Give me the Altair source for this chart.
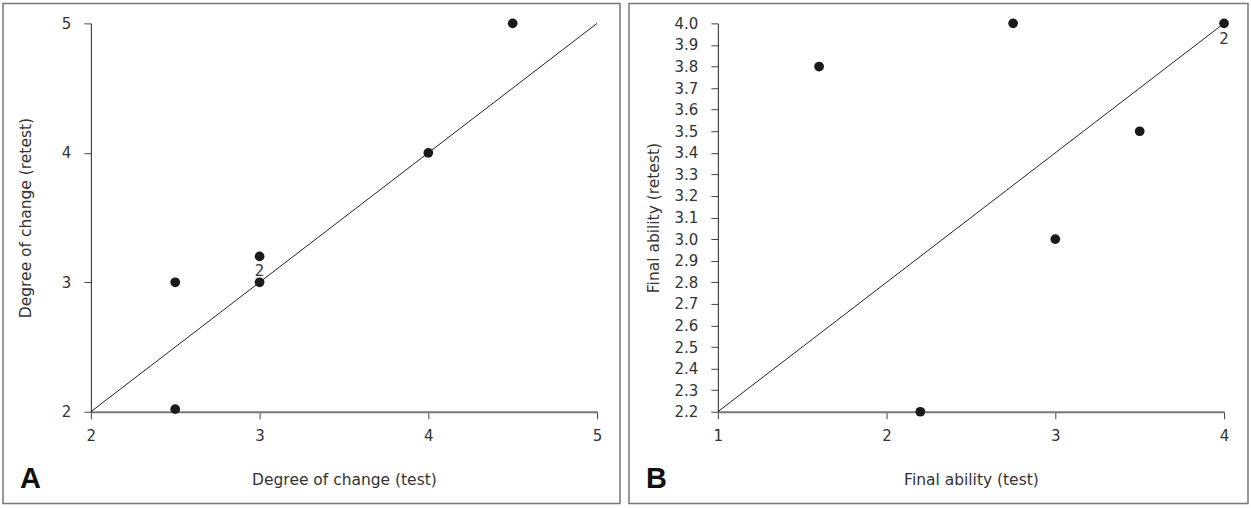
import altair as alt
import pandas as pd

# ---------------- data ----------------
# Panel A: degree of change
a_test = [2.5, 2.5, 3.0, 3.0, 4.0, 4.5]
a_retest = [3.0, 2.02, 3.2, 3.0, 4.0, 5.0]
a_line_x = [2.0, 5.0]
a_line_y = [2.0, 5.0]
a_count_x = [3.0]
a_count_y = [3.0]
a_count_text = ["2"]
a_xticks = [2, 3, 4, 5]
a_yticks = [2, 3, 4, 5]

# Panel B: final ability
b_test = [1.6, 2.75, 4.0, 3.5, 3.0, 2.2]
b_retest = [3.8, 4.0, 4.0, 3.5, 3.0, 2.2]
b_line_x = [1.0, 4.0]
b_line_y = [2.2, 4.0]
b_count_x = [4.0]
b_count_y = [4.0]
b_count_text = ["2"]
b_xticks = [1, 2, 3, 4]
b_yticks = [2.2, 2.3, 2.4, 2.5, 2.6, 2.7, 2.8, 2.9, 3.0, 3.1,
            3.2, 3.3, 3.4, 3.5, 3.6, 3.7, 3.8, 3.9, 4.0]

panel_letters = ["A", "B"]

FONT = "DejaVu Sans"
W, H = 507, 389


def panel(test, retest, lx, ly, cx, cy, ctext, xdom, ydom, xticks, yticks,
          xtitle, ytitle, yfmt, letter, box, ytitle_pad, count_dy):
    pts = pd.DataFrame({"test": test, "retest": retest})
    line = pd.DataFrame({"test": lx, "retest": ly})
    cnt = pd.DataFrame({"test": cx, "retest": cy, "label": ctext})
    let = pd.DataFrame({"letter": [letter]})

    xs = alt.Scale(domain=xdom, nice=False, zero=False)
    ys = alt.Scale(domain=ydom, nice=False, zero=False)
    xax = alt.Axis(values=xticks, tickCount=len(xticks) + 1, title=xtitle,
                   grid=False, tickSize=7,
                   labelPadding=10, titlePadding=29, domainColor="#777",
                   domainWidth=2, tickColor="#444", format="d",
                   labelFlush=False, labelOverlap=False)
    yax = alt.Axis(values=yticks, tickCount=len(yticks) + 1, title=ytitle,
                   grid=False, tickSize=7,
                   labelPadding=13, titlePadding=ytitle_pad,
                   domainColor="#222", domainWidth=1, tickColor="#444",
                   format=yfmt, labelFlush=False, labelOverlap=False)

    border = alt.Chart(let).mark_rect(
        fillOpacity=0, stroke="#777", strokeWidth=1.5
    ).encode(
        x=alt.value(box[0]), x2=alt.value(box[1]),
        y=alt.value(box[2]), y2=alt.value(box[3]),
    )
    diag = alt.Chart(line).mark_line(color="#222", strokeWidth=1).encode(
        x=alt.X("test:Q", scale=xs, axis=xax),
        y=alt.Y("retest:Q", scale=ys, axis=yax),
    )
    dots = alt.Chart(pts).mark_circle(size=95, color="#1a1a1a", opacity=1).encode(
        x=alt.X("test:Q", scale=xs, axis=xax),
        y=alt.Y("retest:Q", scale=ys, axis=yax),
    )
    counts = alt.Chart(cnt).mark_text(
        font=FONT, fontSize=15, color="#333", dy=count_dy, baseline="middle"
    ).encode(
        x=alt.X("test:Q", scale=xs, axis=xax),
        y=alt.Y("retest:Q", scale=ys, axis=yax),
        text="label:N",
    )
    letter_mark = alt.Chart(let).mark_text(
        font="Liberation Sans", fontSize=29, fontWeight="bold", color="#111",
        align="left", baseline="alphabetic"
    ).encode(
        x=alt.value(box[0] + 17), y=alt.value(box[3] - 16), text="letter:N"
    )
    return alt.layer(border, diag, dots, counts, letter_mark).properties(
        width=W, height=H
    )


left = panel(a_test, a_retest, a_line_x, a_line_y, a_count_x, a_count_y,
             a_count_text, [2, 5], [2, 5], a_xticks, a_yticks,
             "Degree of change (test)", "Degree of change (retest)", "d",
             panel_letters[0], (-88, 530, -20, 481), 28, -11)
right = panel(b_test, b_retest, b_line_x, b_line_y, b_count_x, b_count_y,
              b_count_text, [1, 4], [2.2, 4.0], b_xticks, b_yticks,
              "Final ability (test)", "Final ability (retest)", ".1f",
              panel_letters[1], (-89, 531, -20, 481), 13, 16)

chart = alt.hconcat(left, right, spacing=7).properties(
    padding={"left": 2, "top": 2, "right": 2, "bottom": 3},
    background="white",
).configure_view(strokeWidth=0).configure_axis(
    labelFont=FONT, labelFontSize=15, labelColor="#333",
    titleFont=FONT, titleFontSize=15.5, titleColor="#333", titleFontWeight="normal",
)

chart.save("out.html", embed_options={"renderer": "svg", "actions": False})
